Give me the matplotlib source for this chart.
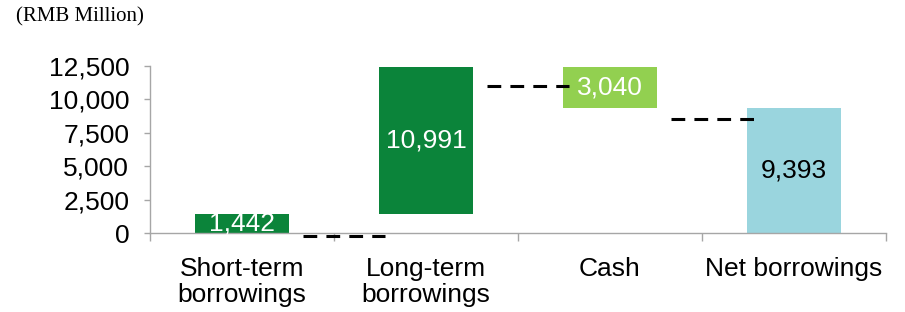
import numpy as np
import matplotlib
matplotlib.use("Agg")
import matplotlib.pyplot as plt

# data
categories = ["Short-term\nborrowings", "Long-term\nborrowings", "Cash", "Net borrowings"]
values = [1442, 10991, -3040, 9393]
is_total = [False, False, False, True]
bar_colors = ["#0B843A", "#0B843A", "#92D050", "#9AD5DE"]
label_colors = ["white", "white", "white", "black"]
connector_levels = [-250, 11000, 8500]
yticks = [0, 2500, 5000, 7500, 10000, 12500]

plt.rcParams["font.family"] = ["Liberation Sans", "DejaVu Sans"]

# waterfall bottoms / heights
bottoms, heights = [], []
running = 0
for v, tot in zip(values, is_total):
    if tot:
        bottoms.append(0)
        heights.append(v)
        running = v
    elif v >= 0:
        bottoms.append(running)
        heights.append(v)
        running += v
    else:
        running += v
        bottoms.append(running)
        heights.append(-v)

fig = plt.figure(figsize=(9.05, 3.12), dpi=100)
ax = fig.add_axes([0.1657, 0.2532, 0.979 - 0.1657, 0.7885 - 0.2532])

x = np.arange(len(categories))
ax.bar(x, heights, bottom=bottoms, width=0.51, color=bar_colors, zorder=2)

for xi, b, h, v, c in zip(x, bottoms, heights, values, label_colors):
    ax.text(xi, b + h / 2, f"{abs(v):,}", ha="center", va="center",
            fontsize=19, color=c, zorder=3)

# dashed connectors between bars
for i, lvl in enumerate(connector_levels):
    ax.plot([i + 0.33, i + 0.78], [lvl, lvl], color="black", lw=2.2,
            dashes=(4.5, 3), zorder=3, clip_on=False)

ax.set_xlim(-0.5, len(categories) - 0.5)
ax.set_ylim(0, 12500)
ax.set_yticks(yticks)
ax.set_yticklabels([f"{t:,}" for t in yticks])
ax.set_xticks(x)
ax.set_xticklabels(categories, fontsize=19, linespacing=1.1)
ax.set_xticks(np.arange(len(categories) + 1) - 0.5, minor=True)

ax.tick_params(axis="x", which="major", length=0, pad=17)
ax.tick_params(axis="x", which="minor", length=6, width=1, color="#A6A6A6", direction="out")
ax.tick_params(axis="y", length=4, width=1, color="#A6A6A6", labelsize=19, pad=11)

for s in ["top", "right"]:
    ax.spines[s].set_visible(False)
for s in ["left", "bottom"]:
    ax.spines[s].set_color("#A6A6A6")
    ax.spines[s].set_linewidth(1)

fig.text(0.018, 0.945, "(RMB Million)", fontsize=15, family=["Liberation Serif"],
         ha="left", va="center")

fig.savefig("out.png", dpi=100)
